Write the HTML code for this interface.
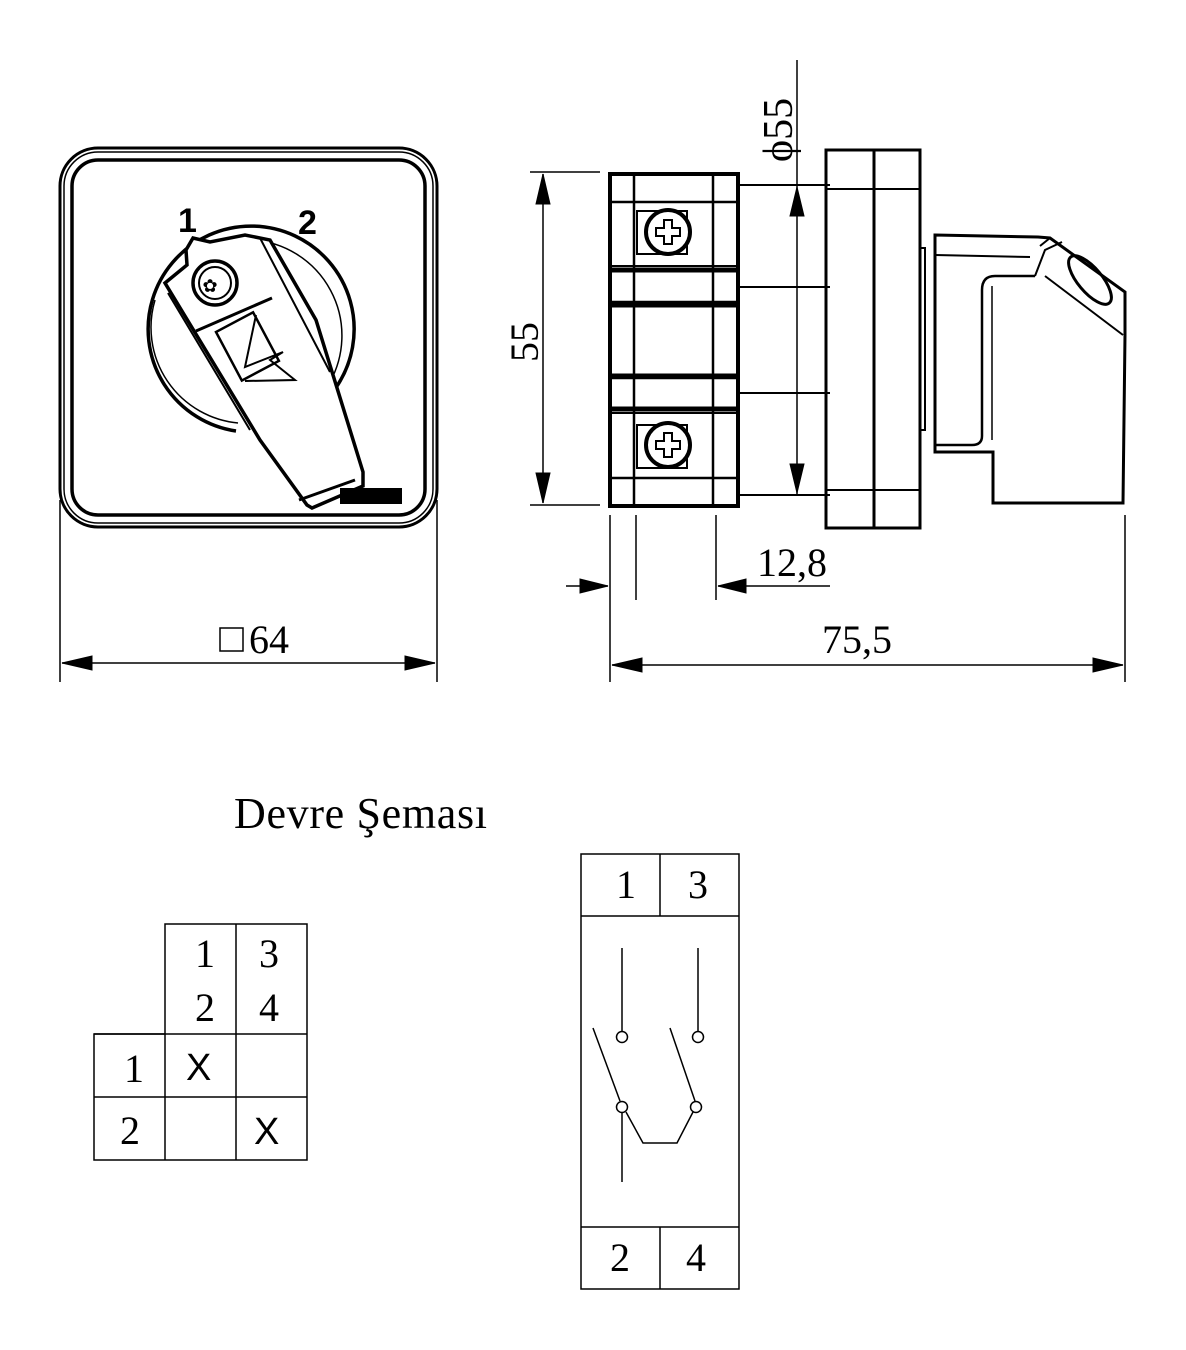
<!DOCTYPE html>
<html><head><style>body{margin:0;background:#fff}svg{display:block}</style></head><body>
<svg width="1186" height="1350" viewBox="0 0 1186 1350" xmlns="http://www.w3.org/2000/svg" font-family="Liberation Serif, serif" fill="none" stroke="#000">
<!-- Front view -->
<rect x="60" y="148" width="377" height="379" rx="38" stroke-width="3"/>
<rect x="64" y="152" width="369" height="371" rx="34" stroke-width="1.5"/>
<rect x="72" y="160" width="353" height="355" rx="26" stroke-width="3.5"/>
<path d="M236,431 A103,103 0 1 1 337,386" stroke-width="3.5"/>
<path d="M238,423 A96,96 0 0 1 155,300" stroke-width="1.5"/>
<path d="M254,240 A96,96 0 0 1 330,382" stroke-width="1.5"/>
<path d="M165,283 L187,265 L186,250 L193,238 L210,242 L245,235 L270,240 L316,320 L363,472 L363,486 L312,508 L307,505 L260,440 L165,283 Z" fill="#fff" stroke-width="3.5"/>
<path d="M260,238 L330,372" stroke-width="2"/>
<path d="M168,293 L250,430" stroke-width="2"/>
<path d="M196,331 L272,298" stroke-width="3"/>
<path d="M299,500 L355,480" stroke-width="3"/>
<rect x="0" y="0" width="42" height="55" transform="translate(216,332) rotate(-28)" stroke-width="2.5"/>
<path d="M256,315 L245,367 L283,352 L270,360 L295,380 L245,381" stroke-width="2"/>
<circle cx="215" cy="283" r="22" stroke-width="3.5"/>
<circle cx="215" cy="283" r="16" stroke-width="2"/>
<text x="210" y="292" font-family="DejaVu Sans" font-size="18" fill="#000" stroke="none" text-anchor="middle">✿</text>
<rect x="340" y="488" width="62" height="16" fill="#000" stroke="none"/>
<text x="178" y="232" font-family="Liberation Sans, sans-serif" font-weight="bold" font-size="34" fill="#000" stroke="none">1</text>
<text x="298" y="234" font-family="Liberation Sans, sans-serif" font-weight="bold" font-size="34" fill="#000" stroke="none">2</text>
<!-- front dims -->
<line x1="60" y1="500" x2="60" y2="682" stroke-width="1.5"/>
<line x1="437" y1="500" x2="437" y2="682" stroke-width="1.5"/>
<line x1="62" y1="663" x2="435" y2="663" stroke-width="1.5"/>
<path d="M62,663 L92,656 L92,670 Z M435,663 L405,656 L405,670 Z" fill="#000"/>
<rect x="220" y="628" width="23" height="23" stroke-width="1.5"/>
<text x="249" y="653" font-size="40" fill="#000" stroke="none">64</text>
<!-- side view left block -->
<rect x="610" y="174" width="128" height="332" stroke-width="4"/>
<line x1="634" y1="174" x2="634" y2="506" stroke-width="2.5"/>
<line x1="713" y1="174" x2="713" y2="506" stroke-width="2.5"/>
<g stroke-width="2.5"><line x1="610" y1="202" x2="738" y2="202"/><line x1="610" y1="302" x2="738" y2="302"/><line x1="610" y1="378" x2="738" y2="378"/><line x1="610" y1="478" x2="738" y2="478"/></g>
<g stroke-width="5"><line x1="610" y1="270" x2="738" y2="270"/><line x1="610" y1="305" x2="738" y2="305"/><line x1="610" y1="376" x2="738" y2="376"/><line x1="610" y1="409" x2="738" y2="409"/></g>
<line x1="610" y1="266" x2="738" y2="266" stroke-width="2"/>
<line x1="610" y1="413" x2="738" y2="413" stroke-width="2"/>
<rect x="637" y="211" width="50" height="43" stroke-width="2"/>
<circle cx="668" cy="232" r="22" fill="#fff" stroke-width="4"/>
<path d="M664,220 h8 v8 h8 v8 h-8 v8 h-8 v-8 h-8 v-8 h8 Z" stroke-width="2"/>
<rect x="637" y="425" width="50" height="43" stroke-width="2"/>
<circle cx="668" cy="445" r="22" fill="#fff" stroke-width="4"/>
<path d="M664,433 h8 v8 h8 v8 h-8 v8 h-8 v-8 h-8 v-8 h8 Z" stroke-width="2"/>
<g stroke-width="2"><line x1="738" y1="185" x2="830" y2="185"/><line x1="738" y1="287" x2="830" y2="287"/><line x1="738" y1="393" x2="830" y2="393"/><line x1="738" y1="495" x2="830" y2="495"/></g>
<!-- plate -->
<rect x="826" y="150" width="48" height="378" stroke-width="3"/>
<rect x="874" y="150" width="46" height="378" stroke-width="3"/>
<line x1="826" y1="189" x2="920" y2="189" stroke-width="2"/>
<line x1="826" y1="490" x2="920" y2="490" stroke-width="2"/>
<rect x="920" y="248" width="5" height="182" stroke-width="2"/>
<!-- handle -->
<path d="M935,235 L1038,237 L1050,238 L1125,292 L1125,335 L1123,503 L993,503 L993,452 L935,452 Z" stroke-width="3"/>
<path d="M935,255 L1030,257" stroke-width="2"/>
<path d="M1035,276 L995,276 Q982,276 982,290 L982,436 Q982,445 972,445 L935,445" stroke-width="2.5"/>
<path d="M992,286 L992,440" stroke-width="1.5"/>
<path d="M1035,276 L1045,250 L1062,242" stroke-width="2"/>
<path d="M1045,276 L1123,335" stroke-width="2"/>
<ellipse cx="1090" cy="280" rx="12" ry="30" transform="rotate(-40 1090 280)" stroke-width="3"/>
<path d="M1050,238 L1040,246" stroke-width="2"/>
<!-- side dims -->
<line x1="797" y1="60" x2="797" y2="495" stroke-width="1.5"/>
<path d="M797,187 L790,216 L804,216 Z M797,493 L790,464 L804,464 Z" fill="#000"/>
<text transform="translate(792,162) rotate(-90)" font-size="42" fill="#000" stroke="none">ϕ55</text>
<line x1="530" y1="172" x2="600" y2="172" stroke-width="1.5"/>
<line x1="530" y1="505" x2="600" y2="505" stroke-width="1.5"/>
<line x1="543" y1="174" x2="543" y2="503" stroke-width="1.5"/>
<path d="M543,174 L536,204 L550,204 Z M543,503 L536,473 L550,473 Z" fill="#000"/>
<text transform="translate(538,362) rotate(-90)" font-size="40" fill="#000" stroke="none">55</text>
<g stroke-width="1.5">
<line x1="610" y1="515" x2="610" y2="682"/>
<line x1="636" y1="515" x2="636" y2="600"/>
<line x1="716" y1="515" x2="716" y2="600"/>
<line x1="1125" y1="515" x2="1125" y2="682"/>
<line x1="566" y1="586" x2="608" y2="586"/>
<line x1="718" y1="586" x2="830" y2="586"/>
<line x1="612" y1="665" x2="1123" y2="665"/>
</g>
<path d="M608,586 L580,579 L580,593 Z M718,586 L746,579 L746,593 Z M612,665 L642,658 L642,672 Z M1123,665 L1093,658 L1093,672 Z" fill="#000"/>
<text x="757" y="576" font-size="40" fill="#000" stroke="none">12,8</text>
<text x="822" y="653" font-size="40" fill="#000" stroke="none">75,5</text>
<!-- Devre Şeması -->
<text x="234" y="828" font-size="44" fill="#000" stroke="none" textLength="253">Devre Şeması</text>
<g stroke-width="1.5">
<path d="M165,924 H307 V1160 H94 V1034 H165 Z"/>
<line x1="236" y1="924" x2="236" y2="1160"/>
<line x1="165" y1="1034" x2="165" y2="1160"/>
<line x1="94" y1="1034" x2="307" y2="1034"/>
<line x1="94" y1="1097" x2="307" y2="1097"/>
</g>
<g font-size="40" fill="#000" stroke="none">
<text x="195" y="967">1</text><text x="259" y="967">3</text>
<text x="195" y="1021">2</text><text x="259" y="1021">4</text>
<text x="124" y="1082">1</text><text x="120" y="1144">2</text>
<text x="186" y="1080" font-family="Liberation Sans, sans-serif" font-size="38">X</text>
<text x="254" y="1144" font-family="Liberation Sans, sans-serif" font-size="38">X</text>
</g>
<g stroke-width="1.5">
<rect x="581" y="854" width="158" height="435"/>
<line x1="581" y1="916" x2="739" y2="916"/>
<line x1="581" y1="1227" x2="739" y2="1227"/>
<line x1="660" y1="854" x2="660" y2="916"/>
<line x1="660" y1="1227" x2="660" y2="1289"/>
<line x1="622" y1="948" x2="622" y2="1031"/>
<line x1="698" y1="948" x2="698" y2="1031"/>
<circle cx="622" cy="1037" r="5.5"/><circle cx="698" cy="1037" r="5.5"/>
<circle cx="622" cy="1107" r="5.5"/><circle cx="696" cy="1107" r="5.5"/>
<line x1="593" y1="1028" x2="620" y2="1101"/>
<line x1="670" y1="1028" x2="695" y2="1101"/>
<line x1="622" y1="1113" x2="622" y2="1182"/>
<path d="M626,1112 L643,1143 L677,1143 L693,1112"/>
</g>
<g font-size="40" fill="#000" stroke="none">
<text x="616" y="898">1</text><text x="688" y="898">3</text>
<text x="610" y="1271">2</text><text x="686" y="1271">4</text>
</g>
</svg>
</body></html>
